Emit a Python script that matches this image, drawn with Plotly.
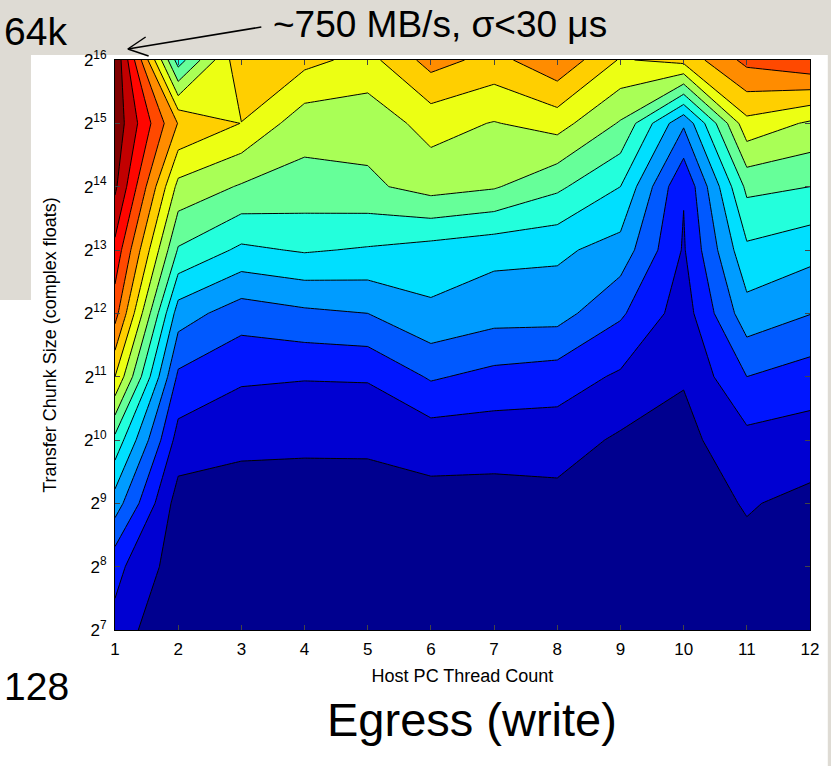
import plotly.graph_objects as go

# ---------------- data ----------------
threads = list(range(1, 13))                 # Host PC thread count
chunk_exp = list(range(7, 17))               # transfer chunk size = 2**exp complex floats
chunk_labels = ["2<sup>%d</sup>" % e for e in chunk_exp]

# throughput band index per chunk size (0 = slowest band ... 15 = fastest band), one value per thread count
band_2e7  = [1.2, -0.7, -0.5, -0.5, -0.5, -0.4, -0.4, -0.4, -0.3, -0.3, -0.2, -0.4]
band_2e8  = [1.8, -0.05, -0.2, -0.2, -0.2, -0.2, -0.2, -0.2, -0.1, -0.1, 0.2, -0.1]
band_2e9  = [4.0, 0.05, 0.1, 0.1, 0.1, 0.2, 0.15, 0.2, 0.1, 0.0, 0.58, 0.24]
band_2e10 = [6.2, 1.1, 0.7, 0.66, 0.67, 0.9, 0.9, 0.95, 0.35, 0.2, 1.2, 1.04]
band_2e11 = [9.5, 2.3, 1.65, 1.56, 1.59, 2.62, 2.2, 2.0, 1.35, 0.58, 2.5, 2.03]
band_2e12 = [11.9, 4.0, 2.95, 3.3, 3.5, 4.3, 3.9, 3.9, 2.65, 1.0, 4.1, 3.53]
band_2e13 = [13.2, 6.4, 5.3, 5.6, 5.4, 5.1, 4.8, 4.7, 4.1, 1.4, 5.3, 4.85]
band_2e14 = [14.7, 8.2, 7.4, 7.15, 7.3, 7.9, 7.6, 6.7, 5.5, 1.56, 6.75, 6.5]
band_2e15 = [15.2, 10.45, 9.48, 7.9, 7.9, 8.87, 8.45, 8.9, 7.4, 3.65, 9.2, 8.35]
band_2e16 = [15.4, 6.0, 10.3, 9.8, 9.15, 10.9, 10.15, 11.3, 9.4, 9.85, 11.8, 12.4]

z = [band_2e7, band_2e8, band_2e9, band_2e10, band_2e11,
     band_2e12, band_2e13, band_2e14, band_2e15, band_2e16]

# ---------------- styling ----------------
jet16 = ["rgb(0,0,143)", "rgb(0,0,210)", "rgb(0,22,255)", "rgb(0,89,255)",
         "rgb(0,156,255)", "rgb(0,223,255)", "rgb(35,255,220)", "rgb(102,255,153)",
         "rgb(169,255,86)", "rgb(236,255,19)", "rgb(255,207,0)", "rgb(255,140,0)",
         "rgb(255,73,0)", "rgb(255,6,0)", "rgb(194,0,0)", "rgb(128,0,0)"]
colorscale = [[i / 15.0, c] for i, c in enumerate(jet16)]

W, H = 831, 766
L, R, T, B = 115, 13, 60, 136
PW, PH = W - L - R, H - T - B


def px(x):
    return (x - L) / PW


def py(y):
    return (H - B - y) / PH


FONT = "Liberation Sans, Arial, sans-serif"

fig = go.Figure(go.Contour(
    x=threads, y=chunk_exp, z=z,
    colorscale=colorscale,
    autocontour=False,
    contours=dict(start=0.5, end=14.5, size=1, coloring="fill", showlines=True),
    line=dict(color="black", width=1, smoothing=0),
    showscale=False, hoverinfo="skip",
))

shapes = [
    # white figure panel
    dict(type="rect", xref="paper", yref="paper", x0=px(30), x1=px(W + 5), y0=py(H + 5), y1=py(55),
         fillcolor="white", line=dict(width=0), layer="below"),
    dict(type="rect", xref="paper", yref="paper", x0=px(-5), x1=px(31), y0=py(H + 5), y1=py(300),
         fillcolor="white", line=dict(width=0), layer="below"),
    # arrow
    dict(type="line", xref="paper", yref="paper", x0=px(128), y0=py(49), x1=px(263), y1=py(27),
         line=dict(color="black", width=1.5)),
    dict(type="line", xref="paper", yref="paper", x0=px(128), y0=py(49), x1=px(149), y1=py(56),
         line=dict(color="black", width=1.5)),
    dict(type="line", xref="paper", yref="paper", x0=px(128), y0=py(49), x1=px(146), y1=py(37),
         line=dict(color="black", width=1.5)),
]

annotations = [
    dict(text="64k", xref="paper", yref="paper", x=px(1), y=py(31), xanchor="left", yanchor="middle",
         showarrow=False, font=dict(family=FONT, size=39, color="black")),
    dict(text="~750 MB/s, σ<30 μs", xref="paper", yref="paper", x=px(273), y=py(24),
         xanchor="left", yanchor="middle", showarrow=False,
         font=dict(family=FONT, size=37, color="black")),
    dict(text="128", xref="paper", yref="paper", x=px(1), y=py(686), xanchor="left", yanchor="middle",
         showarrow=False, font=dict(family=FONT, size=39, color="black")),
    dict(text="Egress (write)", xref="paper", yref="paper", x=px(476), y=py(719),
         xanchor="center", yanchor="middle", showarrow=False,
         font=dict(family=FONT, size=47, color="black")),
]

fig.update_layout(
    width=W, height=H,
    margin=dict(l=L, r=R, t=T, b=B, pad=0),
    paper_bgcolor="#dedbd4",
    plot_bgcolor="white",
    shapes=shapes,
    annotations=annotations,
    showlegend=False,
    xaxis=dict(range=[1, 12], tickmode="array", tickvals=threads, ticktext=[str(t) for t in threads],
               ticks="inside", ticklen=5, mirror="ticks", showline=True, linecolor="black", linewidth=1,
               showgrid=False, zeroline=False, ticklabelstandoff=4,
               tickfont=dict(family=FONT, size=17, color="black"),
               title=dict(text="Host PC Thread Count", standoff=10,
                          font=dict(family=FONT, size=18, color="black"))),
    yaxis=dict(range=[7, 16], tickmode="array", tickvals=chunk_exp, ticktext=chunk_labels,
               ticks="inside", ticklen=5, mirror="ticks", showline=True, linecolor="black", linewidth=1,
               showgrid=False, zeroline=False, ticklabelstandoff=4,
               tickfont=dict(family=FONT, size=17, color="black"),
               title=dict(text="Transfer Chunk Size (complex floats)", standoff=22,
                          font=dict(family=FONT, size=18, color="black"))),
)

fig.write_html("out.html")
